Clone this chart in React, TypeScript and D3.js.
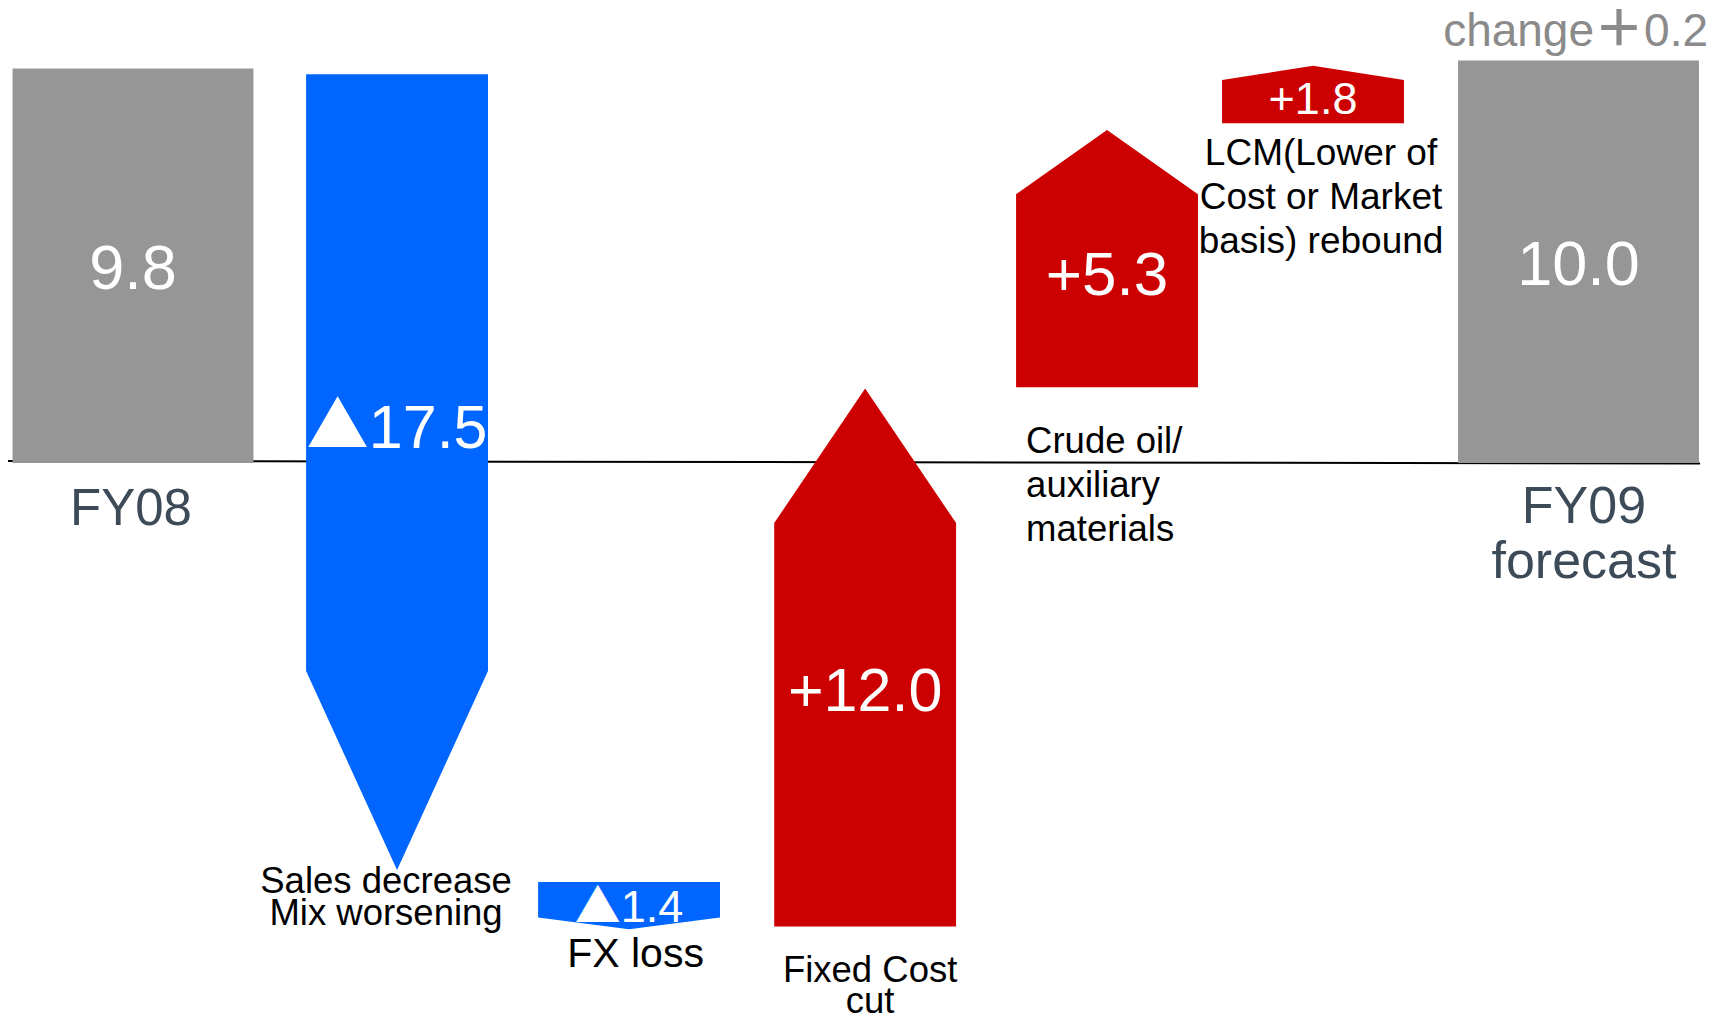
import React from "react";
import * as d3 from "d3";

// ---- data ----
const categories = ["FY08", "Sales", "FX", "FixedCost", "Crude", "LCM", "FY09"];
// horizontal slot positions of the shapes (in slot units)
const slotPositions = [0, 1.096, 2.059, 3.039, 4.043, 4.898, 6];
const kinds = ["total", "down", "down", "up", "up", "up", "total"];
// visual start / end of each shape in chart units
const startValues = [0, 9.66, -10.46, -11.57, 1.86, 8.44, 0];
const endValues = [9.8, -10.16, -11.64, 1.83, 8.27, 9.87, 10.0];
const valueSigns = ["", "▲", "▲", "+", "+", "+", ""];
const valueNumbers = ["9.8", "17.5", "1.4", "12.0", "5.3", "1.8", "10.0"];
const categoryLines = [
  ["FY08"],
  ["Sales decrease", "Mix worsening"],
  ["FX loss"],
  ["Fixed Cost", "cut"],
  ["Crude oil/", "auxiliary", "materials"],
  ["LCM(Lower of", "Cost or Market", "basis) rebound"],
  ["FY09", "forecast"],
];
const changeWord = "change";
const changeValue = "＋0.2";

// ---- style / layout ----
const W = 1729;
const H = 1014;
const FONT = "'Liberation Sans', Arial, 'Noto Sans CJK JP', sans-serif";
const GRAY = "#969696";
const BLUE = "#0066FF";
const RED = "#CC0000";
const SLATE = "#3D4B59";

// per-shape value label layout (baseline as fraction along the shape, font size)
const valueLayout = [
  { t: 0.44, size: 63 },
  { t: 0.47, size: 61 },
  { t: 0.846, size: 45 },
  { t: 0.4, size: 61 },
  { t: 0.36, size: 62 },
  { t: 0.164, size: 45 },
  { t: 0.44, size: 63 },
];
const catLayout = [
  { anchor: "middle", dx: -2, from: "zero", dy: 63, size: 51, lh: 55, color: SLATE },
  { anchor: "middle", dx: -11, from: "end", dy: 23, size: 36.5, lh: 32, color: "#000" },
  { anchor: "middle", dx: 6.5, from: "end", dy: 37.5, size: 41, lh: 40, color: "#000" },
  { anchor: "middle", dx: 5, from: "start", dy: 55, size: 36.5, lh: 31, color: "#000" },
  { anchor: "start", dx: 10, from: "start", dy: 65.7, size: 36.5, lh: 44, color: "#000" },
  { anchor: "middle", dx: 8, from: "start", dy: 41.5, size: 37, lh: 44, color: "#000" },
  { anchor: "middle", dx: 5.5, from: "zero", dy: 61, size: 52, lh: 55, color: SLATE },
];

export default function App() {
  const x = d3.scaleLinear().domain([0, 6]).range([133, 1578.5]);
  const y = d3.scaleLinear().domain([0, 10]).range([462, 60.5]);
  const slot = x(1) - x(0);
  const totalW = slot * 1.0;
  const arrowW = slot * 0.755;

  const shapes = categories.map((c, i) => {
    const cx = x(slotPositions[i]);
    const y0 = y(startValues[i]);
    const y1 = y(endValues[i]);
    const kind = kinds[i];
    if (kind === "total") {
      return {
        i, cx, y0, y1, kind,
        left: cx - totalW / 2,
        right: cx + totalW / 2,
        path: null as string | null,
      };
    }
    const l = cx - arrowW / 2;
    const r = cx + arrowW / 2;
    const len = Math.abs(y1 - y0);
    const head = len * 0.25;
    const dir = kind === "down" ? 1 : -1;
    const sh = y1 - dir * head;
    const line = d3.line();
    const path =
      line([
        [l, y0],
        [r, y0],
        [r, sh],
        [cx, y1],
        [l, sh],
      ]) + "Z";
    return { i, cx, y0, y1, kind, left: l, right: r, path };
  });

  return (
    <svg
      width={W}
      height={H}
      viewBox={`0 0 ${W} ${H}`}
      style={{ position: "fixed", left: 0, top: 0, background: "#fff" }}
      fontFamily={FONT}
    >
      <rect x={0} y={0} width={W} height={H} fill="#fff" />
      {/* zero line */}
      <line x1={8} x2={1700} y1={y(0) - 1} y2={y(0) + 1.5} stroke="#000" strokeWidth={2} />

      {shapes.map((s) =>
        s.kind === "total" ? (
          <rect
            key={"b" + s.i}
            x={s.left}
            y={Math.min(s.y0, s.y1)}
            width={s.right - s.left}
            height={Math.abs(s.y1 - s.y0) + 1}
            fill={GRAY}
          />
        ) : (
          <path key={"b" + s.i} d={s.path!} fill={s.kind === "down" ? BLUE : RED} />
        )
      )}

      {/* value labels */}
      {shapes.map((s) => {
        const lay = valueLayout[s.i];
        const base = s.y0 + (s.y1 - s.y0) * lay.t;
        const sign = valueSigns[s.i];
        return (
          <text
            key={"v" + s.i}
            x={s.cx}
            y={base}
            textAnchor="middle"
            fontSize={lay.size}
            fill="#fff"
          >
            {sign === "▲" ? (
              <tspan fontFamily="'Noto Sans CJK JP', 'DejaVu Sans', sans-serif" fontSize={lay.size * 1.02}>
                {sign}
              </tspan>
            ) : sign ? (
              <tspan>{sign}</tspan>
            ) : null}
            <tspan>{valueNumbers[s.i]}</tspan>
          </text>
        );
      })}

      {/* category labels */}
      {shapes.map((s) => {
        const lay = catLayout[s.i];
        const ref = lay.from === "zero" ? y(0) : lay.from === "end" ? s.y1 : s.y0;
        const base = ref + lay.dy;
        const tx = lay.anchor === "start" ? s.left + lay.dx : s.cx + lay.dx;
        return (
          <text
            key={"c" + s.i}
            x={tx}
            y={base}
            textAnchor={lay.anchor}
            fontSize={lay.size}
            fill={lay.color}
          >
            {categoryLines[s.i].map((ln, k) => (
              <tspan key={k} x={tx} y={base + k * lay.lh}>
                {ln}
              </tspan>
            ))}
          </text>
        );
      })}

      {/* change note */}
      <text x={1708} y={46} textAnchor="end" fontSize={46} fill="#8A8A8A">
        <tspan>{changeWord}</tspan>
        <tspan fontFamily="'Noto Sans CJK JP', sans-serif" fontSize={50} fontWeight={700}>
          {changeValue.slice(0, 1)}
        </tspan>
        <tspan>{changeValue.slice(1)}</tspan>
      </text>
    </svg>
  );
}
